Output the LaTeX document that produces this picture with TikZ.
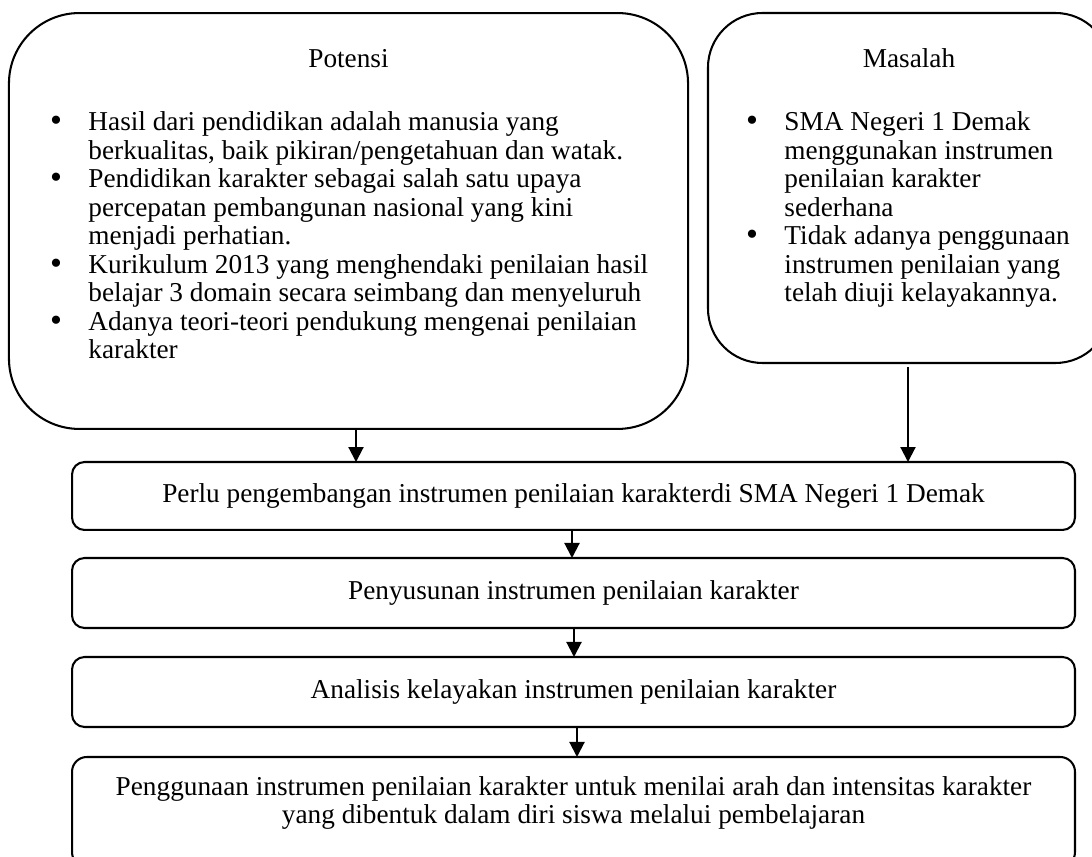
\documentclass[tikz,border=0pt]{standalone}
\usepackage{fontspec}
\setmainfont{Liberation Serif}
\usetikzlibrary{arrows.meta}
\begin{document}
\begin{tikzpicture}[x=0.44pt,y=-0.44pt,
  box/.style={draw,line width=0.9pt,rounded corners=#1,inner sep=0pt,outer sep=0pt},
  txt/.style={inner sep=0pt,font=\fontsize{12}{14}\selectfont},
  ln/.style={txt,anchor=base west},
  cl/.style={txt,anchor=base},
  bul/.style={inner sep=0pt,anchor=base,font=\fontsize{15}{14}\selectfont},
  arr/.style={line width=0.9pt,-{Triangle[width=6.6pt,length=6.6pt]}}]
\useasboundingbox (0,0) rectangle (1092,857);
\clip (0,0) rectangle (1092,857);

% big boxes
\node[box=31pt,minimum width=298.8pt,minimum height=183.0pt] (potensi) at (348.5,221) {};
\node[box=24pt,minimum width=176.9pt,minimum height=154.0pt] (masalah) at (909,188) {};

% Potensi text
\node[cl] (pt) at (348.5,68) {Potensi};
\node[bul] (pb1) at (56,132) {•};
\node[ln] (p1) at (88,131) {Hasil dari pendidikan adalah manusia yang};
\node[ln] (p2) at (88,159.5) {berkualitas, baik pikiran/pengetahuan dan watak.};
\node[bul] (pb2) at (56,189) {•};
\node[ln] (p3) at (88,188) {Pendidikan karakter sebagai salah satu upaya};
\node[ln] (p4) at (88,216.5) {percepatan pembangunan nasional yang kini};
\node[ln] (p5) at (88,245) {menjadi perhatian.};
\node[bul] (pb3) at (56,274.5) {•};
\node[ln] (p6) at (88,273.5) {Kurikulum 2013 yang menghendaki penilaian hasil};
\node[ln] (p7) at (88,302) {belajar 3 domain secara seimbang dan menyeluruh};
\node[bul] (pb4) at (56,331.5) {•};
\node[ln] (p8) at (88,330.5) {Adanya teori-teori pendukung mengenai penilaian};
\node[ln] (p9) at (88,359) {karakter};

% Masalah text
\node[cl] (mt) at (909,68) {Masalah};
\node[bul] (mb1) at (752,132) {•};
\node[ln] (m1) at (784,131) {SMA Negeri 1 Demak};
\node[ln] (m2) at (784,159.5) {menggunakan instrumen};
\node[ln] (m3) at (784,188) {penilaian karakter};
\node[ln] (m4) at (784,216.5) {sederhana};
\node[bul] (mb2) at (752,246) {•};
\node[ln] (m5) at (784,245) {Tidak adanya penggunaan};
\node[ln] (m6) at (784,273.5) {instrumen penilaian yang};
\node[ln] (m7) at (784,302) {telah diuji kelayakannya.};

% flow boxes
\node[box=5.5pt,txt,minimum width=441.3pt,minimum height=29.9pt] (perlu) at (573.5,496)
  {Perlu pengembangan instrumen penilaian karakterdi SMA Negeri 1 Demak};
\node[box=5.5pt,txt,minimum width=441.3pt,minimum height=30.8pt] (susun) at (573.5,593)
  {Penyusunan instrumen penilaian karakter};
\node[box=5.5pt,txt,minimum width=441.3pt,minimum height=30.8pt] (analisis) at (573.5,692)
  {Analisis kelayakan instrumen penilaian karakter};
\node[box=6.5pt,minimum width=441.3pt,minimum height=48.4pt] (guna) at (573.5,812) {};
\node[cl] (g1) at (573.5,796) {Penggunaan instrumen penilaian karakter untuk menilai arah dan intensitas karakter};
\node[cl] (g2) at (573.5,824) {yang dibentuk dalam diri siswa melalui pembelajaran};

% arrows
\coordinate (ax1) at (356,0);
\coordinate (ax2) at (908,0);
\coordinate (ax3) at (572,0);
\coordinate (ax4) at (574,0);
\coordinate (ax5) at (577,0);
\draw[arr] (potensi.south -| ax1) -- (perlu.north -| ax1);
\draw[arr] ([yshift=-1.8pt]masalah.south -| ax2) -- (perlu.north -| ax2);
\draw[arr] (perlu.south -| ax3) -- (susun.north -| ax3);
\draw[arr] (susun.south -| ax4) -- (analisis.north -| ax4);
\draw[arr] (analisis.south -| ax5) -- (guna.north -| ax5);
\end{tikzpicture}
\end{document}
